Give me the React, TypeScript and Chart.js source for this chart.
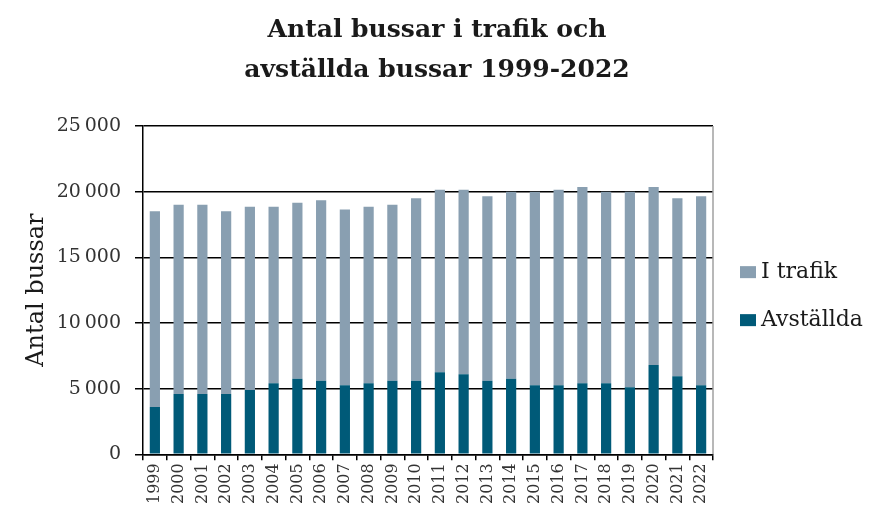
import React, { useEffect, useRef } from "react";
import { Chart, registerables } from "chart.js";

Chart.register(...registerables);

const years = ["1999","2000","2001","2002","2003","2004","2005","2006","2007","2008","2009","2010","2011","2012","2013","2014","2015","2016","2017","2018","2019","2020","2021","2022"];
const avstallda = [3600,4600,4600,4600,4900,5400,5750,5600,5250,5400,5600,5600,6250,6100,5600,5750,5250,5250,5400,5400,5100,6800,5950,5250];
const iTrafik = [14900,14400,14400,13900,13950,13450,13400,13750,13400,13450,13400,13900,13900,14050,14050,14250,14750,14900,14950,14600,14900,13550,13550,14400];
const yTicks = [0,5000,10000,15000,20000,25000];
const titleLines = ["Antal bussar i trafik och", "avställda bussar 1999-2022"];
const legendOrder = ["I trafik", "Avställda"];

const SERIF = "'DejaVu Serif', serif";

const frame = {
  id: "frame",
  afterDraw(chart: any) {
    const { ctx, chartArea } = chart;
    ctx.save();
    ctx.strokeStyle = "#a0a0a0";
    ctx.lineWidth = 1.5;
    ctx.beginPath();
    ctx.moveTo(chartArea.right, chartArea.top);
    ctx.lineTo(chartArea.right, chartArea.bottom);
    ctx.stroke();
    // legend
    ctx.font = `22px ${SERIF}`;
    ctx.textBaseline = "middle";
    ctx.textAlign = "left";
    const x0 = chartArea.right + 27;
    const midY = (chartArea.top + chartArea.bottom) / 2;
    legendOrder.forEach((name, i) => {
      const ds = chart.data.datasets.find((d: any) => d.label === name);
      const y = midY - 18 + i * 48;
      ctx.fillStyle = ds.backgroundColor;
      ctx.fillRect(x0, y - 6, 16, 12);
      ctx.fillStyle = "#1a1a1a";
      ctx.fillText(name, x0 + 21, y);
    });
    ctx.restore();
  },
};

export default function App() {
  const ref = useRef<HTMLCanvasElement>(null);
  useEffect(() => {
    document.body.style.margin = "0";
    const chart = new Chart(ref.current!, {
      type: "bar",
      data: {
        labels: years,
        datasets: [
          { label: "Avställda", data: avstallda, backgroundColor: "#005a78", stack: "s" },
          { label: "I trafik", data: iTrafik, backgroundColor: "#899fb1", stack: "s" },
        ],
      },
      plugins: [frame],
      options: {
        animation: false,
        responsive: false,
        maintainAspectRatio: false,
        layout: { padding: { left: 0, right: 0, top: 0, bottom: 4 } },
        datasets: { bar: { barPercentage: 0.43, categoryPercentage: 1 } },
        plugins: {
          title: {
            display: true,
            text: titleLines,
            color: "#1a1a1a",
            font: { family: SERIF, size: 25, weight: "bold", lineHeight: 1.6 },
            padding: { top: 10, bottom: 36 },
          },
          legend: { display: false },
          tooltip: { enabled: false },
        },
        scales: {
          x: {
            stacked: true,
            offset: true,
            grid: { display: true, drawOnChartArea: false, drawTicks: true, tickLength: 6, color: "#000", lineWidth: 1.5, offset: true },
            border: { color: "#000", width: 1.5 },
            ticks: {
              color: "#333",
              font: { family: SERIF, size: 16 },
              maxRotation: 90,
              minRotation: 90,
              autoSkip: false,
              padding: 3,
            },
          },
          y: {
            stacked: true,
            min: 0,
            max: 25000,
            afterFit: (s: any) => { s.width = 143; },
            afterBuildTicks: (axis: any) => {
              axis.ticks = yTicks.map((v) => ({ value: v }));
            },
            grid: { color: "#000", lineWidth: 1.5, drawTicks: true, tickLength: 8 },
            border: { color: "#000", width: 1.5 },
            ticks: {
              color: "#333",
              font: { family: SERIF, size: 19 },
              padding: 14,
              callback: (v: any) => Number(v).toLocaleString("en-US").replace(/,/g, "\u2009"),
            },
            title: {
              display: true,
              text: "Antal bussar",
              color: "#1a1a1a",
              font: { family: SERIF, size: 24 },
              padding: { top: 22, bottom: 4 },
            },
          },
          yRight: {
            position: "right",
            min: 0,
            max: 25000,
            afterFit: (s: any) => { s.width = 161; },
            grid: { display: false },
            border: { display: false },
            ticks: { display: false },
          },
        },
      },
    });
    return () => chart.destroy();
  }, []);
  return (
    <div style={{ position: "absolute", left: 0, top: 0, width: 874, height: 511 }}>
      <canvas ref={ref} width={874} height={511} style={{ width: 874, height: 511 }} />
    </div>
  );
}
